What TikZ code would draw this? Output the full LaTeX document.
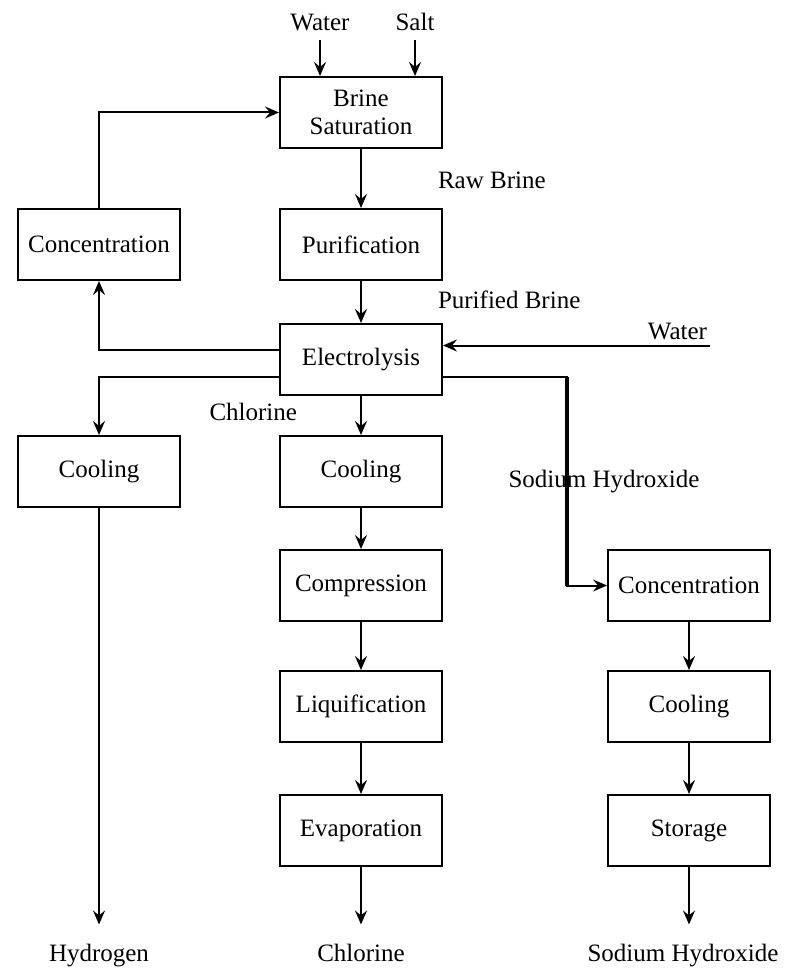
\documentclass[tikz,border=0pt]{standalone}
\usepackage{fontspec}
\setmainfont{Liberation Serif}
\usetikzlibrary{arrows.meta,positioning}

\begin{document}
\begin{tikzpicture}[>={Stealth[length=7pt,width=6pt,inset=2.5pt]},line width=1pt,
  unit/.style={draw,minimum width=81pt,minimum height=35.5pt,inner sep=2pt,font=\fontsize{12.5}{14}\selectfont},
  flow/.style={font=\fontsize{12.5}{14}\selectfont,inner sep=1pt,text height=0.7em,text depth=0.25em}]
\useasboundingbox (0,0) rectangle (397pt,-484pt);
% main line
\node[unit,align=center] (brine) at (180.5pt,-56.25pt) {Brine\\Saturation};
\node[unit,below=29.5pt of brine] (purif) {Purification};
\node[unit,below=21pt of purif] (elec) {Electrolysis};
\node[unit,below=19.5pt of elec] (cool) {Cooling};
\node[unit,below=20.5pt of cool] (comp) {Compression};
\node[unit,below=24pt of comp] (liq) {Liquification};
\node[unit,below=25.5pt of liq] (evap) {Evaporation};
% side lines
\node[unit,left=49pt of purif] (concL) {Concentration};
\node[unit,left=49pt of cool] (coolL) {Cooling};
\node[unit,right=82pt of comp] (concR) {Concentration};
\node[unit,right=82pt of liq] (coolR) {Cooling};
\node[unit,right=82pt of evap] (stor) {Storage};
% feeds
\node[flow] (water) at (160pt,-13pt) {Water};
\node[flow] (salt) at (207.5pt,-13pt) {Salt};
\draw[->,shorten <=1pt] (water) -- (water |- brine.north);
\draw[->,shorten <=1pt] (salt) -- (salt |- brine.north);
\draw[->] (concL.north) |- (brine.west);
\draw[->] (brine) -- (purif);
\draw[->] (purif) -- (elec);
\node[flow,anchor=west] (rawlbl) at (217.5pt,-92pt) {Raw Brine};
\node[flow,anchor=west] (purlbl) at (217.5pt,-152pt) {Purified Brine};
\coordinate (waterin) at (355pt,-172.75pt);
\node[flow,anchor=south east] (water2) at ([yshift=-1pt]waterin) {Water};
\draw[->] (waterin) -- (waterin -| elec.east);
% products
\coordinate (elecup) at ([yshift=4.75pt]elec.west);
\coordinate (eleclo) at ([yshift=-8.75pt]elec.west);
\coordinate (elecr) at ([yshift=-8.75pt]elec.east);
\draw[->] (elecup) -| (concL);
\draw[->] (eleclo) -| (coolL);
\draw[->] (elec) -- (cool);
\node[flow,anchor=east] (cllbl) at (150pt,-208pt) {Chlorine};
\draw[->] (cool) -- (comp);
\draw[->] (comp) -- (liq);
\draw[->] (liq) -- (evap);
\node[flow] (naohlbl) at (302pt,-241.5pt) {Sodium Hydroxide};
\coordinate (naohbend) at (283.5pt,0);
\coordinate (naohtop) at (naohbend |- elecr);
\coordinate (naohbot) at (naohbend |- concR.west);
\draw[->] (elecr) -- (naohtop) -- (naohbot) -- (concR);
\draw[line width=1.9pt] (naohtop) -- (naohbot);
\draw[->] (concR) -- (coolR);
\draw[->] (coolR) -- (stor);
% outputs
\coordinate (outrow) at (0,-478.5pt);
\node[flow] (hyd) at (coolL |- outrow) {Hydrogen};
\node[flow] (clout) at (evap |- outrow) {Chlorine};
\node[flow] (naohout) at ([xshift=-3pt]stor |- outrow) {Sodium Hydroxide};
\draw[->,shorten >=10pt] (coolL) -- (hyd);
\draw[->,shorten >=10pt] (evap) -- (clout);
\draw[->,shorten >=10pt] (stor) -- (stor |- naohout.north);
\end{tikzpicture}
\end{document}
